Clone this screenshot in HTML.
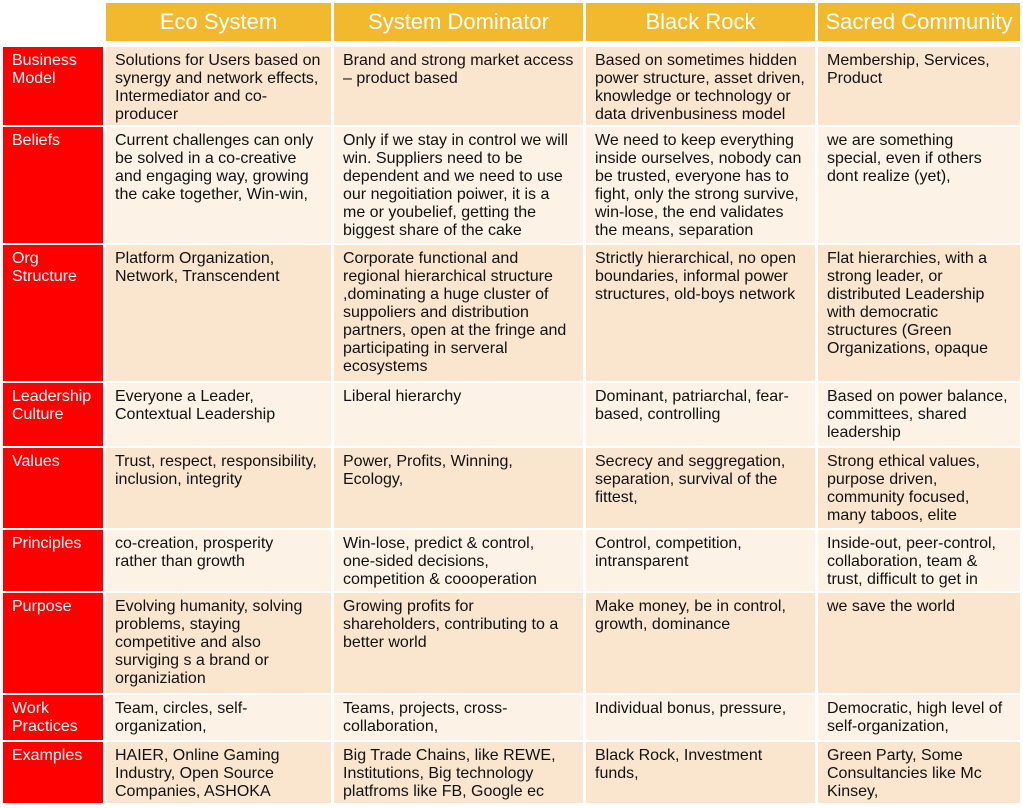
<!DOCTYPE html>
<html><head><meta charset="utf-8"><style>
body{margin:0;width:1023px;height:808px;background:#fff;position:relative;overflow:hidden;font-family:"Liberation Sans","NanumGothic",sans-serif;}
.c{position:absolute;box-sizing:border-box;font-size:16px;line-height:18px;color:#111;padding:5px 9px 0 9px;white-space:nowrap;overflow:hidden;}
.h{position:absolute;background:#f2b92f;color:#fff;font-size:22px;text-align:center;line-height:38px;}
.r{background:#ff0000;color:#fff;padding-left:9px;}
.a{background:#fae5cf;}
.b{background:#fcf2e6;}
</style></head><body>
<div class="h" style="left:106px;top:3px;width:225px;height:38px">Eco System</div>
<div class="h" style="left:334px;top:3px;width:249px;height:38px">System Dominator</div>
<div class="h" style="left:586px;top:3px;width:229px;height:38px">Black Rock</div>
<div class="h" style="left:818px;top:3px;width:202px;height:38px">Sacred Community</div>

<div id="t"></div>
<script>
const rows=[
[47,78,"a","Business|Model",["Solutions for Users based on|synergy and network effects,|Intermediator and co-|producer","Brand and strong market access|– product based","Based on sometimes hidden|power structure, asset driven,|knowledge or technology or|data drivenbusiness model","Membership, Services,|Product"]],
[127,116,"b","Beliefs",["Current challenges can only|be solved in a co-creative|and engaging way, growing|the cake together, Win-win,","Only if we stay in control we will|win. Suppliers need to be|dependent and we need to use|our negoitiation poiwer, it is a|me or youbelief, getting the|biggest share of the cake","We need to keep everything|inside ourselves, nobody can|be trusted, everyone has to|fight, only the strong survive,|win-lose, the end validates|the means, separation","we are something|special, even if others|dont realize (yet),"]],
[245,136,"a","Org|Structure",["Platform Organization,|Network, Transcendent","Corporate functional and|regional hierarchical structure|,dominating a huge cluster of|suppoliers and distribution|partners, open at the fringe and|participating in serveral|ecosystems","Strictly hierarchical, no open|boundaries, informal power|structures, old-boys network","Flat hierarchies, with a|strong leader, or|distributed Leadership|with democratic|structures (Green|Organizations, opaque"]],
[383,63,"b","Leadership|Culture",["Everyone a Leader,|Contextual Leadership","Liberal hierarchy","Dominant, patriarchal, fear-|based, controlling","Based on power balance,|committees, shared|leadership"]],
[448,80,"a","Values",["Trust, respect, responsibility,|inclusion, integrity","Power, Profits, Winning,|Ecology,","Secrecy and seggregation,|separation, survival of the|fittest,","Strong ethical values,|purpose driven,|community focused,|many taboos, elite"]],
[530,61,"b","Principles",["co-creation, prosperity|rather than growth","Win-lose, predict &amp; control,|one-sided decisions,|competition &amp; coooperation","Control, competition,|intransparent","Inside-out, peer-control,|collaboration, team &amp;|trust, difficult to get in"]],
[593,100,"a","Purpose",["Evolving humanity, solving|problems, staying|competitive and also|surviging s a brand or|organiziation","Growing profits  for|shareholders, contributing to a|better world","Make money, be in control,|growth, dominance","we save the world"]],
[695,45,"b","Work|Practices",["Team, circles, self-|organization,","Teams, projects, cross-|collaboration,","Individual bonus, pressure,","Democratic, high level of|self-organization,"]],
[742,61,"a","Examples",["HAIER, Online Gaming|Industry, Open Source|Companies, ASHOKA","Big Trade Chains, like REWE,|Institutions, Big technology|platfroms like FB, Google ec","Black Rock, Investment|funds,","Green Party,  Some|Consultancies like Mc|Kinsey,"]]
];
const cols=[[106,225],[334,249],[586,229],[818,202]];
let h="";
const f=s=>s.split("|").join("<br>");
for(const [y,ht,cl,lab,cells] of rows){
 h+=`<div class="c r" style="left:3px;top:${y}px;width:100px;height:${ht}px">${f(lab)}</div>`;
 cells.forEach((t,i)=>{h+=`<div class="c ${cl}" style="left:${cols[i][0]}px;top:${y}px;width:${cols[i][1]}px;height:${ht}px">${f(t)}</div>`;});
}
document.getElementById("t").outerHTML=h;
</script>
</body></html>
